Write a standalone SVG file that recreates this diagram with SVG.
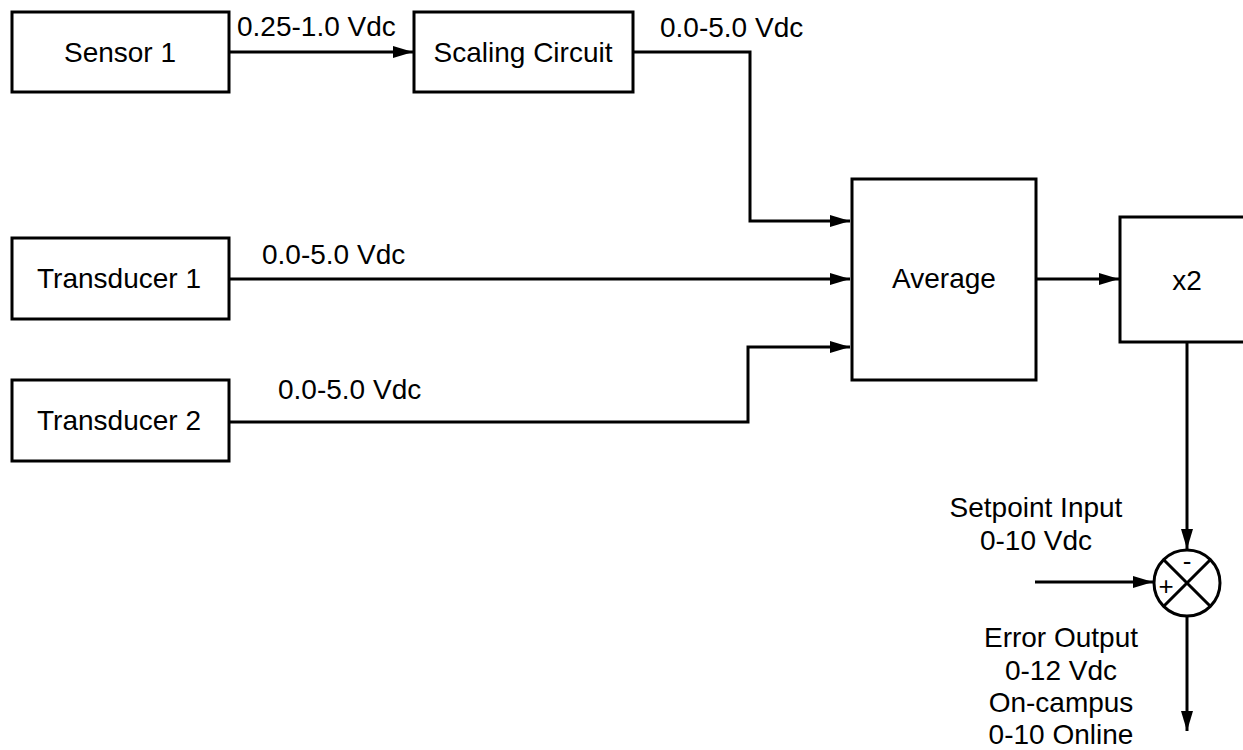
<svg xmlns="http://www.w3.org/2000/svg" width="1243" height="750" viewBox="0 0 1243 750">
<style>
.box{fill:#fff;stroke:#000;stroke-width:3}
.t{font-family:"Liberation Sans",Arial,sans-serif;font-size:28px;fill:#000}
.s{font-family:"Liberation Sans",Arial,sans-serif;font-size:26px;fill:#000;text-anchor:middle}
.c{text-anchor:middle}
.w{fill:none;stroke:#000;stroke-width:3}
</style>
<defs>
<marker id="ah" viewBox="0 0 20 12" refX="20" refY="6" markerWidth="20" markerHeight="12" markerUnits="userSpaceOnUse" orient="auto">
<path d="M0,0 L20,6 L0,12 Z" fill="#000"/>
</marker>
</defs>
<rect width="1243" height="750" fill="#fff"/>
<g id="connectors">
<path class="w" d="M229,52 H413" marker-end="url(#ah)"/>
<path class="w" d="M633,52 H750 V221 H850" marker-end="url(#ah)"/>
<path class="w" d="M229,279 H850" marker-end="url(#ah)"/>
<path class="w" d="M229,422 H748 V347 H850" marker-end="url(#ah)"/>
<path class="w" d="M1036,279 H1119" marker-end="url(#ah)"/>
<path class="w" d="M1187,342 V549" marker-end="url(#ah)"/>
<path class="w" d="M1035,582 H1153" marker-end="url(#ah)"/>
<path class="w" d="M1187,616 V731" marker-end="url(#ah)"/>
<text class="t" x="237" y="36">0.25-1.0 Vdc</text>
<text class="t" x="660" y="37">0.0-5.0 Vdc</text>
<text class="t" x="262" y="264">0.0-5.0 Vdc</text>
<text class="t" x="278" y="399">0.0-5.0 Vdc</text>
<text class="t c" x="1036" y="517">Setpoint Input</text>
<text class="t c" x="1036" y="550">0-10 Vdc</text>
<text class="t c" x="1061" y="647">Error Output</text>
<text class="t c" x="1061" y="680">0-12 Vdc</text>
<text class="t c" x="1061" y="712">On-campus</text>
<text class="t c" x="1061" y="744">0-10 Online</text>
</g>
<g id="sensor1"><rect class="box" x="12" y="12" width="217" height="80"/><text class="t c" x="120" y="62">Sensor 1</text></g>
<g id="scaling"><rect class="box" x="414" y="12" width="219" height="80"/><text class="t c" x="523" y="62">Scaling Circuit</text></g>
<g id="transducer1"><rect class="box" x="12" y="238" width="217" height="81"/><text class="t c" x="119" y="288">Transducer 1</text></g>
<g id="transducer2"><rect class="box" x="12" y="380" width="217" height="81"/><text class="t c" x="119" y="430">Transducer 2</text></g>
<g id="average"><rect class="box" x="852" y="179" width="184" height="201"/><text class="t c" x="944" y="288">Average</text></g>
<g id="x2"><rect class="box" x="1120" y="217" width="130" height="125"/><text class="t c" x="1187" y="290">x2</text></g>
<g id="sum">
<circle cx="1187" cy="583" r="33" fill="#fff" stroke="#000" stroke-width="3"/>
<path class="w" d="M1163.7,559.7 L1210.3,606.3 M1210.3,559.7 L1163.7,606.3"/>
<text class="s" x="1187" y="570">-</text>
<text class="s" x="1166" y="595">+</text>
</g>
</svg>
